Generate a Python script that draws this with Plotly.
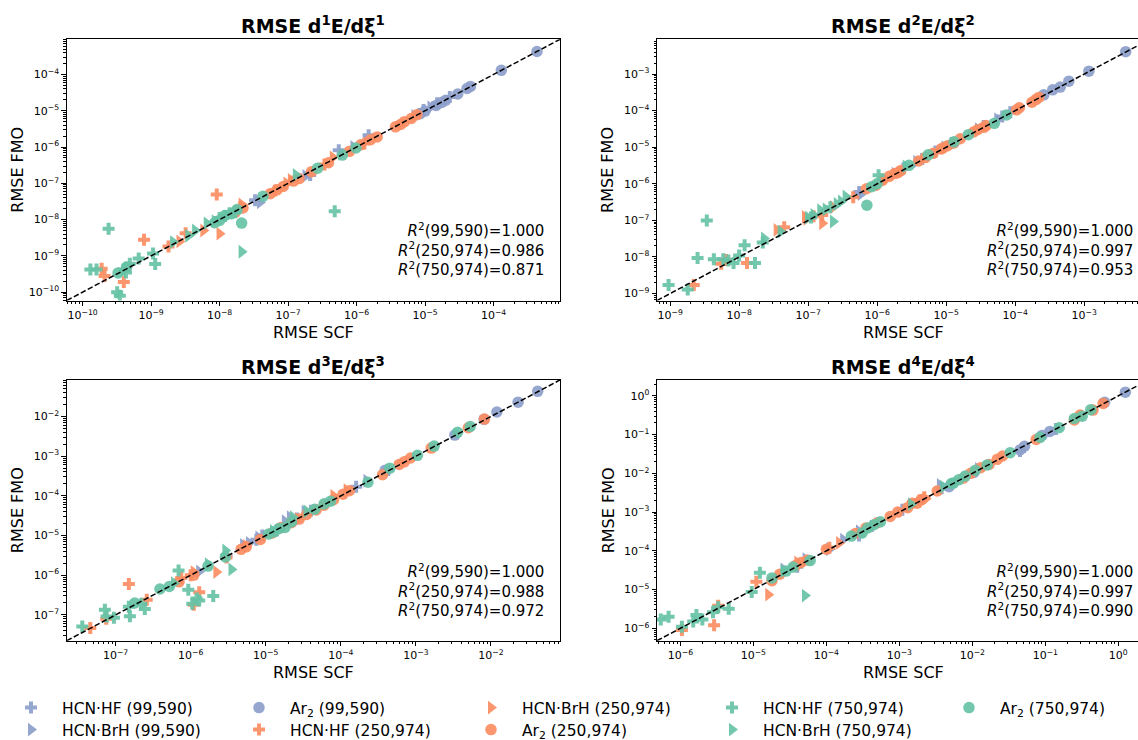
import plotly.graph_objects as go

W, H = 1138, 740

# ---------------- first derivative: RMSE SCF (x) vs RMSE FMO (y) ----------------
d1_hf99_x = [3.3e-8, 2.1e-7, 5.5e-7, 1.5e-6, 9.5e-6, 1.5e-5, 2.3e-5]
d1_hf99_y = [3.4e-8, 1.7e-7, 8.1e-7, 2.1e-6, 1.05e-5, 1.6e-5, 2.4e-5]
d1_brh99_x = [3.9e-8, 1.8e-7, 6.0e-7, 1.4e-6, 7.0e-6, 1.2e-5, 9.0e-7]
d1_brh99_y = [3.0e-8, 1.6e-7, 6.5e-7, 1.5e-6, 7.2e-6, 1.25e-5, 1.0e-6]
d1_ar99_x = [4.3e-4, 1.3e-4, 4.6e-5, 4.1e-5, 3.0e-5, 2.0e-5, 1.75e-5, 1.45e-5, 1.0e-5, 8.5e-6]
d1_ar99_y = [4.3e-4, 1.3e-4, 4.7e-5, 4.1e-5, 2.9e-5, 1.95e-5, 1.7e-5, 1.4e-5, 9.8e-6, 8.3e-6]
d1_hf250_x = [9.1e-9, 7.9e-10, 4.0e-10, 1.9e-10, 2.1e-10, 1.8e-9, 3.2e-9, 2.0e-8, 6.5e-8, 3.4e-7, 1.3e-6]
d1_hf250_y = [4.9e-8, 2.8e-9, 1.9e-10, 4.4e-10, 2.8e-10, 1.8e-9, 4.2e-9, 2.2e-8, 6.3e-8, 3.3e-7, 1.25e-6]
d1_brh250_x = [1.0e-8, 2.1e-8, 5.8e-9, 2.6e-9, 4.5e-7, 9.5e-8, 1.1e-7]
d1_brh250_y = [4.1e-9, 2.6e-8, 5.0e-9, 2.5e-9, 5.2e-7, 1.0e-7, 1.25e-7]
d1_ar250_x = [7.6e-6, 6.3e-6, 5.0e-6, 4.4e-6, 3.7e-6, 2.0e-6, 1.6e-6, 1.15e-6, 7.9e-7, 3.9e-7, 2.2e-7,
              1.45e-7, 1.2e-7, 8.5e-8, 6.9e-8, 5.5e-8, 2.2e-8, 1.7e-8]
d1_ar250_y = [7.8e-6, 6.1e-6, 5.0e-6, 4.2e-6, 3.6e-6, 1.9e-6, 1.6e-6, 1.15e-6, 7.6e-7, 3.7e-7, 2.1e-7,
              1.35e-7, 1.15e-7, 8.2e-8, 6.6e-8, 5.2e-8, 2.1e-8, 1.6e-8]
d1_hf750_x = [2.4e-10, 4.8e-7, 1.3e-10, 1.6e-10, 3.2e-10, 3.5e-10, 4.0e-10, 4.9e-10, 6.6e-10, 1.07e-9,
              1.15e-9, 4.3e-10, 1.0e-8, 1.4e-8, 1.2e-8, 1.7e-8]
d1_hf750_y = [5.6e-9, 1.7e-8, 4.2e-10, 4.2e-10, 1.0e-10, 8.0e-11, 4.2e-10, 6.1e-10, 8.5e-10, 1.17e-9,
              6.0e-10, 3.5e-10, 1.1e-8, 1.5e-8, 1.25e-8, 1.6e-8]
d1_brh750_x = [2.1e-8, 1.3e-7, 2.1e-9, 4.4e-9, 6.5e-9, 3.5e-9, 8.5e-9]
d1_brh750_y = [1.3e-9, 1.7e-7, 2.4e-9, 5.0e-9, 7.9e-9, 3.6e-9, 9.0e-9]
d1_ar750_x = [2.1e-8, 4.3e-8, 2.7e-7, 6.2e-7, 9.8e-7, 1.2e-8, 1.5e-8, 8.5e-9, 3.3e-10, 4.4e-10, 1.0e-8, 1.8e-8]
d1_ar750_y = [8.0e-9, 4.4e-8, 2.6e-7, 6.0e-7, 9.4e-7, 1.3e-8, 1.45e-8, 8.2e-9, 3.4e-10, 4.9e-10, 9.5e-9, 1.9e-8]

# ---------------- second derivative ----------------
d2_hf99_x = [5.5e-7, 2.4e-6, 4.5e-6, 1.2e-5, 3.5e-5, 6.5e-5, 8.5e-5, 7.0e-6]
d2_hf99_y = [6.0e-7, 2.6e-6, 4.8e-6, 1.3e-5, 3.8e-5, 6.9e-5, 9.0e-5, 7.6e-6]
d2_brh99_x = [5.8e-7, 1.8e-6, 3.7e-6, 9.5e-6, 2.9e-5, 5.5e-5, 1.2e-6]
d2_brh99_y = [5.2e-7, 1.9e-6, 4.0e-6, 1.0e-5, 3.1e-5, 5.8e-5, 1.3e-6]
d2_ar99_x = [4.0e-3, 1.17e-3, 6.0e-4, 4.5e-4, 3.5e-4, 2.6e-4]
d2_ar99_y = [4.1e-3, 1.2e-3, 6.4e-4, 4.4e-4, 3.7e-4, 2.7e-4]
d2_hf250_x = [2.2e-9, 1.3e-8, 6.5e-9, 4.5e-8, 5.5e-9, 1.6e-7, 4.5e-7, 1.2e-7]
d2_hf250_y = [1.7e-9, 6.8e-9, 8.3e-9, 6.5e-8, 6.5e-9, 1.4e-7, 4.3e-7, 1.3e-7]
d2_brh250_x = [1.6e-7, 3.5e-8, 9.0e-8, 2.3e-7, 1.3e-6, 9.5e-8]
d2_brh250_y = [8.3e-8, 5.5e-8, 1.25e-7, 2.3e-7, 1.3e-6, 1.1e-7]
d2_ar250_x = [2.2e-4, 2.0e-4, 1.75e-4, 1.15e-4, 1.05e-4, 3.8e-5, 3.5e-5, 2.85e-5, 2.5e-5, 1.6e-5, 1.3e-5,
              1.05e-5, 9.0e-6, 8.5e-6, 6.5e-6, 5.0e-6, 4.0e-6, 2.2e-6, 2.0e-6, 1.8e-6, 1.5e-6, 1.2e-6,
              9.5e-7, 7.0e-7]
d2_ar250_y = [2.3e-4, 2.0e-4, 1.7e-4, 1.2e-4, 1.05e-4, 3.9e-5, 3.5e-5, 3.0e-5, 2.6e-5, 1.7e-5, 1.3e-5,
              1.1e-5, 9.5e-6, 9.0e-6, 6.8e-6, 5.2e-6, 4.2e-6, 2.3e-6, 2.0e-6, 1.9e-6, 1.6e-6, 1.25e-6,
              9.0e-7, 7.3e-7]
d2_hf750_x = [3.4e-9, 9.5e-10, 1.8e-9, 2.5e-9, 4.3e-9, 5.9e-9, 8.3e-9, 1.7e-8, 1.2e-8, 1.05e-6, 1.0e-8,
              2.2e-8, 7.0e-9, 1.1e-7, 2.1e-7]
d2_hf750_y = [1.0e-7, 1.7e-9, 1.3e-9, 9.3e-9, 8.7e-9, 8.7e-9, 6.8e-9, 6.8e-9, 2.1e-8, 1.7e-6, 1.1e-8,
              2.5e-8, 8.0e-9, 1.2e-7, 2.3e-7]
d2_brh750_x = [2.3e-7, 4.0e-8, 2.3e-8, 3.5e-7, 1.5e-7, 1.0e-7, 2.6e-6, 1.2e-7, 1.8e-7, 2.6e-7, 3.0e-7]
d2_brh750_y = [9.3e-8, 4.9e-8, 3.2e-8, 4.5e-7, 1.9e-7, 1.2e-7, 3.0e-6, 1.4e-7, 2.0e-7, 2.8e-7, 3.3e-7]
d2_ar750_x = [7.1e-7, 7.5e-5, 5.0e-5, 2.1e-5, 1.3e-5, 5.5e-6, 2.9e-6, 8.3e-7, 1.0e-6]
d2_ar750_y = [2.6e-7, 7.6e-5, 4.5e-5, 2.2e-5, 1.4e-5, 6.2e-6, 3.2e-6, 8.3e-7, 1.0e-6]

# ---------------- third derivative ----------------
d3_hf99_x = [3.0e-6, 7.5e-6, 1.4e-5, 2.6e-5, 4.0e-5, 1.6e-4, 4.3e-4, 9.0e-6]
d3_hf99_y = [3.1e-6, 7.8e-6, 1.35e-5, 2.7e-5, 4.2e-5, 1.7e-4, 4.5e-4, 1.0e-5]
d3_brh99_x = [1.3e-6, 6.0e-6, 2.1e-5, 3.3e-5, 2.2e-4, 1.2e-4, 5.0e-6, 8.0e-6, 1.8e-5]
d3_brh99_y = [1.25e-6, 6.5e-6, 2.9e-5, 4.0e-5, 2.4e-4, 1.25e-4, 5.8e-6, 9.0e-6, 2.3e-5]
d3_ar99_x = [4.2e-2, 2.3e-2, 1.2e-2, 8.1e-3, 3.3e-3, 3.9e-4]
d3_ar99_y = [4.3e-2, 2.3e-2, 1.3e-2, 8.5e-3, 3.4e-3, 4.4e-4]
d3_hf250_x = [1.5e-7, 1.3e-6, 1.1e-6, 4.6e-8, 7.5e-8, 2.6e-7, 7.5e-7, 1.0e-6, 3.0e-6]
d3_hf250_y = [6.0e-7, 3.7e-7, 1.8e-7, 4.7e-8, 8.0e-8, 2.4e-7, 8.5e-7, 1.0e-6, 2.8e-6]
d3_brh250_x = [2.2e-6, 1.1e-6, 8.0e-5, 5.5e-6, 2.7e-5, 1.2e-4]
d3_brh250_y = [1.2e-6, 1.2e-6, 1.0e-4, 5.5e-6, 2.6e-5, 1.4e-4]
d3_ar250_x = [8.2e-3, 5.0e-3, 1.6e-3, 8.5e-4, 7.0e-4, 6.0e-4, 3.6e-4, 1.3e-4, 1.07e-4, 8.0e-5, 6.0e-5,
              4.7e-5, 3.5e-5, 2.8e-5, 2.2e-5, 1.6e-5, 1.2e-5, 8.5e-6, 5.5e-6, 4.7e-6, 1.1e-6, 7.0e-7]
d3_ar250_y = [8.6e-3, 5.2e-3, 1.6e-3, 9.0e-4, 7.2e-4, 6.2e-4, 3.4e-4, 1.35e-4, 1.1e-4, 8.0e-5, 5.8e-5,
              4.4e-5, 3.4e-5, 2.6e-5, 2.1e-5, 1.6e-5, 1.15e-5, 8.0e-6, 5.2e-6, 4.5e-6, 1.0e-6, 6.8e-7]
d3_hf750_x = [3.6e-8, 7.2e-8, 7.6e-8, 1.5e-7, 1.55e-7, 2.2e-7, 2.45e-7, 6.9e-7, 9.3e-7, 1.2e-6, 1.05e-6,
              2.0e-6, 9.5e-8, 1.3e-6]
d3_hf750_y = [5.1e-8, 1.35e-7, 9.1e-8, 1.6e-7, 9.3e-8, 1.9e-7, 1.4e-7, 1.32e-6, 4.3e-7, 2.6e-7, 1.9e-7,
              3.0e-7, 8.5e-8, 2.3e-7]
d3_brh750_x = [3.5e-6, 2.9e-6, 2.3e-5, 1.25e-5, 6.0e-7, 1.7e-6, 3.5e-5]
d3_brh750_y = [1.4e-6, 4.2e-6, 2.9e-5, 1.3e-5, 6.3e-7, 1.9e-6, 4.1e-5]
d3_ar750_x = [5.3e-3, 3.6e-3, 1.75e-3, 1.05e-3, 4.5e-4, 2.3e-4, 7.3e-5, 6.0e-5, 4.5e-5, 2.2e-5, 1.8e-5,
              1.5e-5, 1.3e-5, 1.1e-5, 2.9e-6, 1.7e-6, 3.9e-7, 5.2e-7, 1.8e-7]
d3_ar750_y = [5.6e-3, 4.0e-3, 1.8e-3, 1.05e-3, 5.0e-4, 2.2e-4, 7.3e-5, 6.3e-5, 4.6e-5, 2.2e-5, 1.6e-5,
              1.5e-5, 1.25e-5, 1.1e-5, 2.9e-6, 1.7e-6, 4.5e-7, 5.2e-7, 2.0e-7]

# ---------------- fourth derivative ----------------
d4_hf99_x = [4.0e-5, 2.8e-4, 4.2e-4, 3.8e-3, 0.045, 1.1e-3, 0.14]
d4_hf99_y = [3.9e-5, 2.5e-4, 4.4e-4, 4.1e-3, 0.038, 1.15e-3, 0.14]
d4_brh99_x = [1.7e-4, 2.6e-5, 5.2e-5, 2.8e-4, 3.6e-3, 0.012, 1.1e-4]
d4_brh99_y = [1.95e-4, 3.3e-5, 6.1e-5, 3.2e-4, 5.0e-3, 0.013, 1.1e-4]
d4_ar99_x = [1.25, 0.65, 0.115, 0.09, 0.052, 0.045, 0.0105, 0.0048]
d4_ar99_y = [1.25, 0.68, 0.12, 0.095, 0.05, 0.04, 0.0105, 0.0045]
d4_hf250_x = [2.9e-6, 1.1e-5, 3.3e-6, 1.9e-3, 1.1e-4, 1.05e-6, 2.2e-3]
d4_hf250_y = [1.2e-6, 1.6e-5, 3.8e-6, 2.0e-3, 1.2e-4, 9.0e-7, 2.4e-3]
d4_brh250_x = [1.6e-5, 1.5e-4, 4.0e-5, 2.3e-3]
d4_brh250_y = [7.4e-6, 1.6e-4, 5.0e-5, 2.2e-3]
d4_ar250_x = [0.62, 0.45, 0.30, 0.25, 0.075, 0.026, 0.022, 0.017, 0.013, 0.0095, 0.0075, 0.0033, 2.0e-3,
              1.75e-3, 1.5e-3, 1.3e-3, 9.5e-4, 7.5e-4, 5.0e-4, 3.5e-4, 2.5e-4, 1.0e-4, 5.5e-5, 4.5e-5,
              3.8e-5, 2.3e-5, 1.8e-5]
d4_ar250_y = [0.64, 0.43, 0.32, 0.24, 0.075, 0.028, 0.023, 0.017, 0.014, 0.010, 0.0075, 0.0035, 2.1e-3,
              1.7e-3, 1.7e-3, 1.3e-3, 1.0e-3, 7.7e-4, 5.3e-4, 3.9e-4, 2.8e-4, 1.1e-4, 5.8e-5, 5.0e-5,
              4.2e-5, 2.5e-5, 1.7e-5]
d4_hf750_x = [5.4e-7, 6.9e-7, 1.05e-6, 1.23e-5, 9.5e-6, 4.6e-6, 1.66e-6, 2.0e-6, 2.8e-6, 3.3e-6, 1.5e-6]
d4_hf750_y = [1.7e-6, 2.0e-6, 1.1e-6, 2.7e-5, 8.7e-6, 3.2e-6, 2.2e-6, 1.7e-6, 2.6e-6, 3.5e-6, 1.5e-6]
d4_brh750_x = [5.1e-5, 1.45e-3, 2.6e-5, 4.0e-3]
d4_brh750_y = [7.0e-6, 1.6e-3, 3.0e-5, 4.5e-3]
d4_ar750_x = [0.42, 0.32, 0.25, 0.155, 0.085, 0.033, 0.016, 0.011, 0.008, 0.0065, 0.0055, 0.0052, 5.5e-4,
              4.5e-4, 3.7e-4, 3.1e-4, 2.2e-4, 6.0e-5, 3.5e-5, 2.8e-5, 1.8e-5]
d4_ar750_y = [0.44, 0.30, 0.26, 0.15, 0.085, 0.034, 0.0165, 0.012, 0.0085, 0.0068, 0.0056, 0.0055, 5.6e-4,
              4.7e-4, 3.9e-4, 2.9e-4, 2.4e-4, 5.6e-5, 3.8e-5, 3.0e-5, 2.0e-5]

# R^2 per grid pair, one list per derivative order
r2_d1 = [1.000, 0.986, 0.871]
r2_d2 = [1.000, 0.997, 0.953]
r2_d3 = [1.000, 0.988, 0.972]
r2_d4 = [1.000, 0.997, 0.990]
grid_labels = ["99,590", "250,974", "750,974"]

# decade exponents carrying tick labels
d1_tick_exp = [-10, -9, -8, -7, -6, -5, -4]
d2_tick_exp = [-9, -8, -7, -6, -5, -4, -3]
d3_tick_exp = [-7, -6, -5, -4, -3, -2]
d4_tick_exp = [-6, -5, -4, -3, -2, -1, 0]

# ---------------- series styling (order = drawing order) ----------------
BLUE, ORANGE, GREEN = "#8da0cb", "#fc8d62", "#66c2a5"
series = [
    # key, label, colour, symbol, size, legend, rank, entry width
    ("hf99", "HCN·HF (99,590)", BLUE, "cross", 10, "legend", 1, 161),
    ("brh99", "HCN·BrH (99,590)", BLUE, "triangle-right", 12, "legend2", 1, 161),
    ("ar99", "Ar<sub>2</sub> (99,590)", BLUE, "circle", 11.5, "legend", 2, 165),
    ("hf250", "HCN·HF (250,974)", ORANGE, "cross", 10, "legend2", 2, 165),
    ("brh250", "HCN·BrH (250,974)", ORANGE, "triangle-right", 12, "legend", 3, 174),
    ("ar250", "Ar<sub>2</sub> (250,974)", ORANGE, "circle", 11.5, "legend2", 3, 174),
    ("hf750", "HCN·HF (750,974)", GREEN, "cross", 10, "legend", 4, 170),
    ("brh750", "HCN·BrH (750,974)", GREEN, "triangle-right", 12, "legend2", 4, 170),
    ("ar750", "Ar<sub>2</sub> (750,974)", GREEN, "circle", 11.5, "legend", 5, None),
]

panels = [
    dict(order=1, r2=r2_d1, ticks=d1_tick_exp,
         data={"hf99": (d1_hf99_x, d1_hf99_y), "brh99": (d1_brh99_x, d1_brh99_y), "ar99": (d1_ar99_x, d1_ar99_y),
               "hf250": (d1_hf250_x, d1_hf250_y), "brh250": (d1_brh250_x, d1_brh250_y), "ar250": (d1_ar250_x, d1_ar250_y),
               "hf750": (d1_hf750_x, d1_hf750_y), "brh750": (d1_brh750_x, d1_brh750_y), "ar750": (d1_ar750_x, d1_ar750_y)},
         xr=[-10.23, -3.03], yr=[-10.23, -3.03], box=(66.8, 560, 39.3, 300.5)),
    dict(order=2, r2=r2_d2, ticks=d2_tick_exp,
         data={"hf99": (d2_hf99_x, d2_hf99_y), "brh99": (d2_brh99_x, d2_brh99_y), "ar99": (d2_ar99_x, d2_ar99_y),
               "hf250": (d2_hf250_x, d2_hf250_y), "brh250": (d2_brh250_x, d2_brh250_y), "ar250": (d2_ar250_x, d2_ar250_y),
               "hf750": (d2_hf750_x, d2_hf750_y), "brh750": (d2_brh750_x, d2_brh750_y), "ar750": (d2_ar750_x, d2_ar750_y)},
         xr=[-9.19, -2.22], yr=[-9.19, -2.05], box=(657, 1149, 39.3, 300.5)),
    dict(order=3, r2=r2_d3, ticks=d3_tick_exp,
         data={"hf99": (d3_hf99_x, d3_hf99_y), "brh99": (d3_brh99_x, d3_brh99_y), "ar99": (d3_ar99_x, d3_ar99_y),
               "hf250": (d3_hf250_x, d3_hf250_y), "brh250": (d3_brh250_x, d3_brh250_y), "ar250": (d3_ar250_x, d3_ar250_y),
               "hf750": (d3_hf750_x, d3_hf750_y), "brh750": (d3_brh750_x, d3_brh750_y), "ar750": (d3_ar750_x, d3_ar750_y)},
         xr=[-7.65, -1.08], yr=[-7.65, -1.08], box=(66.8, 560, 380, 640.7)),
    dict(order=4, r2=r2_d4, ticks=d4_tick_exp,
         data={"hf99": (d4_hf99_x, d4_hf99_y), "brh99": (d4_brh99_x, d4_brh99_y), "ar99": (d4_ar99_x, d4_ar99_y),
               "hf250": (d4_hf250_x, d4_hf250_y), "brh250": (d4_brh250_x, d4_brh250_y), "ar250": (d4_ar250_x, d4_ar250_y),
               "hf750": (d4_hf750_x, d4_hf750_y), "brh750": (d4_brh750_x, d4_brh750_y), "ar750": (d4_ar750_x, d4_ar750_y)},
         xr=[-6.32, 0.27], yr=[-6.32, 0.41], box=(657, 1149, 380, 640.7)),
]

FONT = "DejaVu Sans"
fig = go.Figure()
annotations = []


def fx(p):
    return p / W


def fy(p):
    return 1 - p / H


for i, pan in enumerate(panels):
    n = "" if i == 0 else str(i + 1)
    xa, ya = "x" + n, "y" + n
    left, right, top, bottom = pan["box"]
    vis_right = min(right, W)

    for key, label, col, sym, size, leg, rank, lw in series:
        xs, ys = pan["data"][key]
        tr = dict(x=xs, y=ys, mode="markers", xaxis=xa, yaxis=ya, name=label,
                  marker=dict(color=col, symbol=sym, size=size, opacity=0.92, line=dict(width=0)),
                  showlegend=(i == 0), legend=leg, legendrank=rank, hoverinfo="skip")
        if lw is not None:
            tr["legendwidth"] = lw
        fig.add_trace(go.Scatter(**tr))

    # y = x reference line across the full axes limits
    lo, hi = pan["yr"][0], pan["yr"][1]
    fig.add_trace(go.Scatter(x=[10 ** lo, 10 ** hi], y=[10 ** lo, 10 ** hi], mode="lines",
                             xaxis=xa, yaxis=ya, showlegend=False, hoverinfo="skip",
                             line=dict(color="black", width=1.5, dash="5.5px,2.4px")))

    exps = pan["ticks"]
    major_vals = [10.0 ** e for e in exps]
    major_text = ["10<sup>%s</sup>" % (("\u2212%d" % -e) if e < 0 else "%d" % e) for e in exps]
    minor_vals = [k * 10.0 ** e for e in range(exps[0] - 1, exps[-1] + 2) for k in range(2, 10)]

    common = dict(type="log", showgrid=False, zeroline=False, showline=True, linecolor="black",
                  linewidth=1, ticks="outside", ticklen=4.5, tickwidth=1, tickcolor="black",
                  tickmode="array", tickvals=major_vals, ticktext=major_text,
                  tickfont=dict(family=FONT, size=11, color="black"),
                  minor=dict(tickmode="array", tickvals=minor_vals, ticks="outside", ticklen=2.5,
                             tickwidth=0.8, tickcolor="black", showgrid=False))
    fig.update_layout(**{
        ("xaxis" + n): dict(common, domain=[fx(left), fx(vis_right)], range=pan["xr"], anchor=ya,
                            mirror=True),
        ("yaxis" + n): dict(common, domain=[fy(bottom), fy(top)], range=pan["yr"], anchor=xa,
                            mirror=(right <= W)),
    })

    cx = (left + right) / 2
    o = pan["order"]
    annotations.append(dict(text="<b>RMSE d<sup>%d</sup>E/dξ<sup>%d</sup></b>" % (o, o),
                            x=fx(cx), y=fy(top - 14), xref="paper", yref="paper",
                            xanchor="center", yanchor="middle", showarrow=False,
                            font=dict(family=FONT, size=19, color="black")))
    annotations.append(dict(text="RMSE SCF", x=fx(cx), y=fy(bottom + 31.5), xref="paper", yref="paper",
                            xanchor="center", yanchor="middle", showarrow=False,
                            font=dict(family=FONT, size=16, color="black")))
    annotations.append(dict(text="RMSE FMO", x=fx(left - 49), y=fy((top + bottom) / 2), xref="paper",
                            yref="paper", xanchor="center", yanchor="middle", textangle=-90,
                            showarrow=False, font=dict(family=FONT, size=16, color="black")))
    r2_text = "<br>".join("<i>R</i><sup>2</sup>(%s)=%.3f" % (g, v) for g, v in zip(grid_labels, pan["r2"]))
    annotations.append(dict(text=r2_text, x=fx(right - 14), y=fy(top + 210), xref="paper", yref="paper",
                            xanchor="right", yanchor="middle", align="right", showarrow=False,
                            font=dict(family=FONT, size=15, color="black")))

legend_common = dict(orientation="h", xanchor="left", yanchor="middle", bgcolor="rgba(0,0,0,0)",
                     borderwidth=0, font=dict(family=FONT, size=15.5, color="black"), itemwidth=52,
                     itemclick=False, itemdoubleclick=False, traceorder="normal")
fig.update_layout(
    width=W, height=H,
    margin=dict(l=0, r=0, t=0, b=0, autoexpand=False),
    paper_bgcolor="white", plot_bgcolor="white",
    font=dict(family=FONT, color="black"),
    annotations=annotations,
    legend=dict(legend_common, x=0, y=fy(708)),
    legend2=dict(legend_common, x=0, y=fy(730)),
)

fig.write_html("out.html")
